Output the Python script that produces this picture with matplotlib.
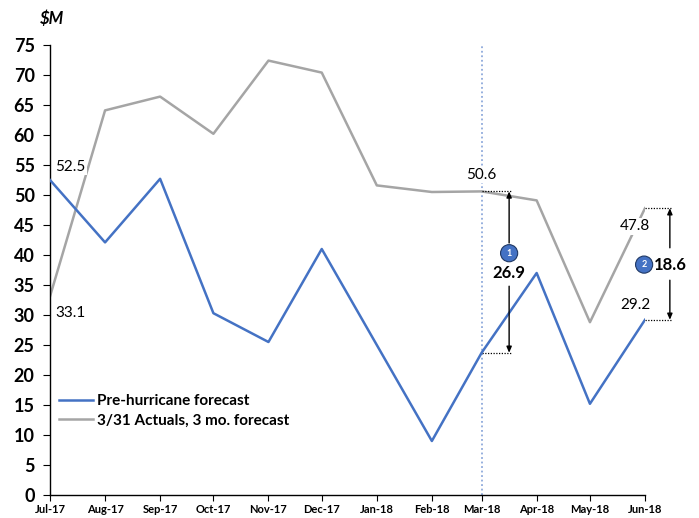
import matplotlib
matplotlib.use("Agg")
import matplotlib.pyplot as plt
import matplotlib.dates as mdates
from datetime import datetime, timedelta

plt.rcParams['font.family'] = ['Lato', 'DejaVu Sans']

months = ["2017-07", "2017-08", "2017-09", "2017-10", "2017-11", "2017-12",
          "2018-01", "2018-02", "2018-03", "2018-04", "2018-05", "2018-06"]
pre_hurricane = [52.5, 42.1, 52.7, 30.3, 25.5, 41.0, 25.0, 9.0, 23.7, 37.0, 15.2, 29.2]
actuals_forecast = [33.1, 64.1, 66.4, 60.2, 72.4, 70.4, 51.6, 50.5, 50.6, 49.1, 28.8, 47.8]
series_names = ["Pre-hurricane forecast", "3/31 Actuals, 3 mo. forecast"]
gap1 = 26.9
gap2 = 18.6

dates = [datetime.strptime(m, "%Y-%m") for m in months]

BLUE = "#4472C4"
GRAY = "#A5A5A5"

fig = plt.figure(figsize=(6.99, 5.18), dpi=100)
ax = fig.add_axes([50/699, 23/518, 595/699, 450/518])

ax.plot(dates, pre_hurricane, color=BLUE, lw=1.8, label=series_names[0], zorder=3)
ax.plot(dates, actuals_forecast, color=GRAY, lw=1.8, label=series_names[1], zorder=2)

ax.set_xlim(dates[0], dates[-1])
ax.set_ylim(0, 75)
ax.set_yticks(range(0, 80, 5))
ax.xaxis.set_major_locator(mdates.MonthLocator())
ax.xaxis.set_major_formatter(mdates.DateFormatter('%b-%y'))
for s in ['top', 'right']:
    ax.spines[s].set_visible(False)
for s in ['left', 'bottom']:
    ax.spines[s].set_color('#000000')
    ax.spines[s].set_linewidth(1.0)
ax.tick_params(axis='y', labelsize=13, length=5, direction='out', pad=6)
ax.tick_params(axis='x', labelsize=8, length=4, direction='out', pad=2.5)
for lab in ax.get_yticklabels() + ax.get_xticklabels():
    lab.set_fontweight('bold')

# vertical dotted line at Mar-18
ax.axvline(dates[8], color='#8EA9DB', lw=1.3, ls=(0, (1, 1.5)), zorder=1)

bbox_w = dict(facecolor='white', edgecolor='none', pad=1.0)
ax.text(dates[0] + timedelta(days=3), pre_hurricane[0] + 2.2, f"{pre_hurricane[0]}",
        fontsize=11, ha='left', va='center', bbox=bbox_w, zorder=4)
ax.text(dates[0] + timedelta(days=3), actuals_forecast[0] - 2.7, f"{actuals_forecast[0]}",
        fontsize=11, ha='left', va='center', bbox=bbox_w, zorder=4)
ax.text(dates[8], actuals_forecast[8] + 2.8, f"{actuals_forecast[8]}",
        fontsize=11, ha='center', va='center', bbox=bbox_w, zorder=4)
ax.text(dates[11] + timedelta(days=3), actuals_forecast[11] - 3.0, f"{actuals_forecast[11]}",
        fontsize=11, ha='right', va='center', bbox=bbox_w, zorder=4)
ax.text(dates[11] + timedelta(days=3), pre_hurricane[11] + 2.4, f"{pre_hurricane[11]}",
        fontsize=11, ha='right', va='center', bbox=bbox_w, zorder=4)

dot = dict(color='#000000', lw=0.9, ls=(0, (1, 1.2)))
# annotation 1
x1 = dates[8] + timedelta(days=15.5)
ax.plot([dates[8], x1 + timedelta(days=1)], [actuals_forecast[8]] * 2, clip_on=False, **dot)
ax.plot([dates[8], x1 + timedelta(days=1)], [pre_hurricane[8]] * 2, clip_on=False, **dot)
ap = dict(arrowstyle='-|>,head_length=0.35,head_width=0.15', color='black', lw=1.0,
          shrinkA=0, shrinkB=0)
ax.annotate('', xy=(x1, actuals_forecast[8]), xytext=(x1, 42.0), arrowprops=ap, annotation_clip=False)
ax.annotate('', xy=(x1, pre_hurricane[8]), xytext=(x1, 34.8), arrowprops=ap, annotation_clip=False)
ax.text(x1, 40.3, "1", fontsize=6.5, color='white', fontweight='bold', ha='center', va='center',
        bbox=dict(boxstyle='circle,pad=0.45', facecolor=BLUE, edgecolor='#1F3864', lw=0.8), zorder=5)
ax.text(x1, 37.0, f"{gap1}", fontsize=12, fontweight='bold', ha='center', va='center', zorder=5)

# annotation 2
x2 = dates[11] + timedelta(days=14)
ax.plot([dates[11], x2 + timedelta(days=1)], [actuals_forecast[11]] * 2, clip_on=False, **dot)
ax.plot([dates[11], x2 + timedelta(days=1)], [pre_hurricane[11]] * 2, clip_on=False, **dot)
ax.annotate('', xy=(x2, actuals_forecast[11]), xytext=(x2, 41.2), arrowprops=ap, annotation_clip=False)
ax.annotate('', xy=(x2, pre_hurricane[11]), xytext=(x2, 35.8), arrowprops=ap, annotation_clip=False)
ax.text(dates[11] - timedelta(days=0.5), 38.4, "2", fontsize=6.5, color='white', fontweight='bold',
        ha='center', va='center',
        bbox=dict(boxstyle='circle,pad=0.45', facecolor=BLUE, edgecolor='#1F3864', lw=0.8),
        zorder=5, clip_on=False)
ax.text(dates[11] + timedelta(days=5), 38.4, f"{gap2}", fontsize=12, fontweight='bold',
        ha='left', va='center', zorder=5, clip_on=False)

leg = ax.legend(loc='lower left', bbox_to_anchor=(0.0, 0.13), frameon=False,
                prop=dict(size=11, weight='bold'), handlelength=2.2, handletextpad=0.3,
                labelspacing=0.35, borderaxespad=0.2)

fig.text(40/699, 1 - 19/518, "$M", fontsize=12, fontweight='bold', style='italic',
         ha='left', va='center')

fig.savefig("out.png", dpi=100)
